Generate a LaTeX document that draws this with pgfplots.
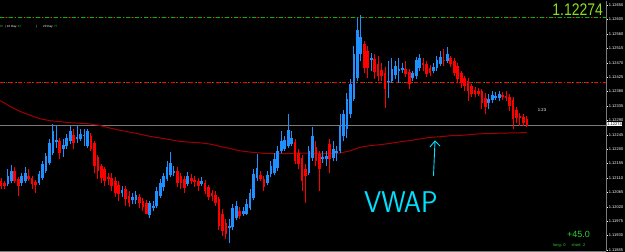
\documentclass[border=0pt]{standalone}
\usepackage{pgfplots}
\usepackage{pgfplotstable}
\pgfplotsset{compat=1.18}
\usepackage{fontspec}
\setmainfont{Liberation Sans}
\definecolor{cblue}{HTML}{1E90FF}
\definecolor{cred}{HTML}{FF0000}
\definecolor{vwapc}{HTML}{A00000}
\definecolor{lgreen}{HTML}{00B800}
\definecolor{dred}{HTML}{8B0000}
\definecolor{bigg}{HTML}{8CE020}
\definecolor{cyanv}{HTML}{00E0FF}
\definecolor{axg}{HTML}{7A7A7A}
\definecolor{txtg}{HTML}{30D030}

% price in units of 0.00001 above 1.12000
\pgfplotstableread{
i o h l c
0 100 109 75 84
1 93 100 75 84
2 90 137 84 115
3 100 150 93 131
4 131 143 93 100
5 106 112 53 84
6 93 125 84 115
7 100 143 93 125
8 115 137 100 106
9 109 115 75 90
10 96 103 62 87
11 93 131 87 121
12 109 162 103 153
13 131 187 125 178
14 156 231 150 218
15 187 278 181 256
16 221 271 203 228
17 225 234 168 187
18 200 231 175 212
19 209 246 200 234
20 225 271 215 256
21 243 262 200 218
22 231 275 218 237
23 231 262 225 246
24 240 262 209 243
25 209 262 203 256
26 240 250 193 200
27 218 225 125 146
28 175 181 106 131
29 146 153 93 109
30 137 143 84 100
31 112 125 87 106
32 109 125 68 84
33 100 112 50 62
34 87 100 37 59
35 62 84 50 71
36 75 84 21 43
37 53 68 18 31
38 40 62 28 50
39 40 68 28 56
40 50 59 15 31
41 37 46 6 18
42 31 40 -4 -1
43 -7 37 -16 31
44 15 37 6 21
45 21 81 15 68
46 53 106 46 93
47 81 125 68 115
48 106 162 100 143
49 118 190 112 156
50 125 146 115 131
51 131 143 81 93
52 115 125 75 93
53 106 115 62 78
54 90 128 84 115
55 109 121 90 100
56 103 115 81 96
57 100 109 68 84
58 90 112 84 100
59 93 103 59 68
60 81 87 40 50
61 62 71 37 53
62 56 68 21 31
63 43 50 -51 -41
64 -1 12 -72 -57
65 -32 -19 -82 -66
66 -47 -19 -94 -41
67 -44 28 -54 15
68 -16 37 -22 21
69 6 18 -19 -10
70 -1 18 -10 6
71 -1 43 -7 28
72 15 75 9 62
73 46 137 40 121
74 109 184 100 140
75 118 131 100 106
76 106 115 68 81
77 93 131 87 118
78 121 162 112 146
79 125 187 118 168
80 140 209 131 193
81 193 256 187 225
82 200 240 193 228
83 209 309 203 259
84 215 256 209 234
85 221 231 153 162
86 187 200 137 153
87 171 181 68 100
88 137 153 31 115
89 125 209 118 193
90 171 268 162 240
91 206 225 146 162
92 184 193 68 137
93 168 193 156 175
94 168 193 146 178
95 215 231 125 168
96 171 225 162 200
97 187 209 162 193
98 193 309 187 271
99 240 324 225 309
100 262 375 234 356
101 309 418 296 403
102 356 521 350 496
103 424 609 412 571
104 496 618 475 550
105 528 537 437 453
106 506 521 421 453
107 478 500 443 484
108 481 496 418 440
109 465 490 412 428
110 446 468 412 428
111 437 456 328 387
112 409 475 359 412
113 412 484 406 450
114 431 475 418 459
115 443 484 406 450
116 446 468 437 453
117 450 475 425 434
118 440 450 387 403
119 421 443 412 437
120 428 487 418 478
121 453 496 443 484
122 468 484 443 462
123 465 475 425 434
124 453 462 428 437
125 443 468 437 456
126 453 490 443 478
127 465 506 459 487
128 478 512 459 475
129 475 518 468 496
130 484 490 456 465
131 475 484 428 437
132 459 468 406 418
133 437 443 390 406
134 421 428 381 396
135 412 421 350 381
136 396 403 362 371
137 384 393 362 371
138 381 390 365 371
139 381 387 325 343
140 359 375 309 331
141 343 371 325 356
142 353 381 343 368
143 359 378 353 365
144 359 381 350 371
145 368 378 353 362
146 365 381 350 359
147 362 371 318 334
148 353 362 262 293
149 321 331 281 296
150 303 312 271 296
151 300 309 271 281
152 293 303 268 274
}\candles

\pgfplotstableread{
i p
-0.3 352
2.6 334
5.5 318
8.4 306
11.3 295
14.2 289
17.1 286
19.9 283
22.8 281
25.7 279
28.6 274
31.5 266
34.4 259
37.3 253
40.2 247
43.1 240
46.0 235
48.8 230
51.7 224
54.6 222
57.5 220
60.4 216
63.3 209
66.2 202
69.1 195
72.0 191
74.9 188
77.7 186
81.5 186
86.4 188
91.3 187
96.0 187
98.0 188
100.9 195
103.8 206
106.6 211
109.5 214
112.4 218
115.3 223
118.2 227
121.1 232
124.0 237
126.9 239
129.8 242
132.7 243
138.4 248
144.2 250
148.6 251
152.0 252
}\vwapdata

\begin{document}
\begin{tikzpicture}[x=1pt,y=1pt]
\useasboundingbox (0,0) rectangle (625,252);
\fill[black] (0,0) rectangle (625,252);
\begin{axis}[
  at={(0,2)}, anchor=south west,
  scale only axis, width=606pt, height=250pt,
  xmin=-0.29, xmax=174.86, ymin=-119.25, ymax=662,
  axis x line*=bottom, axis y line*=right,
  axis line style={axg, line width=1pt, -},
  xtick=\empty,
  ytick={650,605,560,515,470,425,380,335,290,245,200,155,110,65,20,-25,-70,-115},
  yticklabels={1.12650,1.12605,1.12560,1.12515,1.12470,1.12425,1.12380,1.12335,1.12290,1.12245,1.12200,1.12155,1.12110,1.12065,1.12020,1.11975,1.11930,1.11885},
  tick align=outside, major tick length=2pt,
  y tick style={white, line width=0.5pt},
  yticklabel style={white, font=\fontsize{4}{5}\selectfont, inner sep=0.4pt, xshift=0.3pt},
]
% horizontal levels
\addplot[dred, line width=1pt, dash pattern=on 2pt off 1.5pt] coordinates {(-0.29,612) (174.86,612)};
\addplot[lgreen, line width=1pt, dash pattern=on 4pt off 2pt on 1pt off 2pt] coordinates {(-0.29,612) (174.86,612)};
\addplot[lgreen, line width=1pt, dash pattern=on 1pt off 3pt] coordinates {(-0.29,409) (174.86,409)};
\addplot[cred, line width=1pt, dash pattern=on 4pt off 2pt on 1pt off 2pt] coordinates {(-0.29,409) (174.86,409)};
\addplot[axg, line width=0.9pt] coordinates {(-0.29,274) (174.86,274)};
% VWAP
\addplot[vwapc, line width=1pt] table[x=i, y=p] {\vwapdata};
% down candles
\addplot[cred, line width=1pt, quiver={u=0, v=\thisrow{h}-\thisrow{l}},
  restrict expr to domain={\thisrow{c}-\thisrow{o}}{-100000:-0.001}] table[x=i, y=l] {\candles};
\addplot[cred, line width=2.7pt, quiver={u=0, v=\thisrow{c}-\thisrow{o}},
  restrict expr to domain={\thisrow{c}-\thisrow{o}}{-100000:-0.001}] table[x=i, y=o] {\candles};
% up candles
\addplot[cblue, line width=1pt, quiver={u=0, v=\thisrow{h}-\thisrow{l}},
  restrict expr to domain={\thisrow{c}-\thisrow{o}}{0.001:100000}] table[x=i, y=l] {\candles};
\addplot[cblue, line width=2.7pt, quiver={u=0, v=\thisrow{c}-\thisrow{o}},
  restrict expr to domain={\thisrow{c}-\thisrow{o}}{0.001:100000}] table[x=i, y=o] {\candles};
\end{axis}
% current price tag
\node[fill=white, text=black, font=\fontsize{4}{5}\selectfont, inner sep=0.6pt, anchor=west] at (606.5,128) {1.12274};
% top-left info
\begin{scope}[every node/.style={font=\fontsize{3}{4}\selectfont, inner sep=0pt, anchor=base west}]
\node at (-0.5,224) {\textcolor{txtg}{55}};
\node at (5.5,224) {\textcolor{white}{|\,10 Day:\,}\textcolor{txtg}{47}};
\node at (36,224) {\textcolor{white}{|}};
\node at (43,224) {\textcolor{white}{20 Day:\,}\textcolor{txtg}{77}};
\end{scope}
% big price
\node[bigg, font=\fontsize{16.8}{18}\selectfont, inner sep=0pt, anchor=base east, xscale=0.83] at (603,236) {1.12274};
% timer
\node[white, font=\fontsize{4.2}{5}\selectfont, inner sep=0pt] at (542,142) {1:23};
% profit
\node[txtg, font=\fontsize{9}{10}\selectfont, inner sep=0pt, anchor=base west] at (567,14) {+45.0};
\node[txtg, font=\fontsize{4}{5}\selectfont, inner sep=0pt, anchor=base west] at (553,5) {long: 0\hspace{6pt}short: 2};
% VWAP annotation
\node[cyanv, font=\sffamily\fontsize{30}{31}\selectfont, inner sep=0pt, anchor=base west, xscale=0.92] at (364,39) {VWAP};
\draw[cyanv, line width=0.9pt] (433.5,76) -- (435,111);
\draw[cyanv, line width=0.9pt] (430,105) -- (435,111) -- (440,106);
\end{tikzpicture}
\end{document}
